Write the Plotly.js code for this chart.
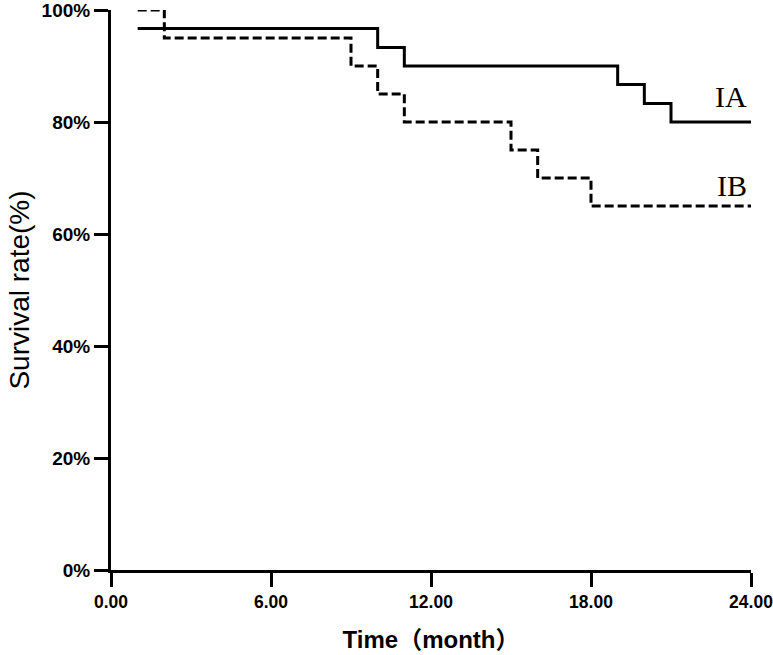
<!DOCTYPE html>
<html>
<head>
<meta charset="utf-8">
<script src="https://cdn.plot.ly/plotly-3.0.1.min.js"></script>
<style>html,body{margin:0;padding:0;background:#fff;}#chart{width:773px;height:655px;}</style>
</head>
<body>
<div id="chart"></div>
<script>
// Kaplan-Meier step data (time in months, survival in %)
const groupNames = ["IA", "IB"];
const timeIA = [1, 10, 11, 19, 20, 21, 24];
const survIA = [96.7, 93.3, 90.0, 86.7, 83.3, 80.0, 80.0];
const timeIB = [1, 2, 9, 10, 11, 15, 16, 18, 24];
const survIB = [100, 95, 90, 85, 80, 75, 70, 65, 65];
const xTicks = [0, 6, 12, 18, 24];
const xTickLabels = ["0.00", "6.00", "12.00", "18.00", "24.00"];
const yTicks = [0, 20, 40, 60, 80, 100];
const yTickLabels = ["0%", "20%", "40%", "60%", "80%", "100%"];

const traces = [
  {x: timeIA, y: survIA, name: groupNames[0], mode: "lines",
   line: {shape: "hv", color: "#000", width: 3}},
  {x: timeIB, y: survIB, name: groupNames[1], mode: "lines",
   line: {shape: "hv", color: "#000", width: 3, dash: "9px,4px"}}
];

const layout = {
  width: 773, height: 655,
  margin: {l: 111, r: 22, t: 10, b: 85},
  paper_bgcolor: "#fff", plot_bgcolor: "#fff",
  showlegend: false,
  xaxis: {
    range: [0, 24], tickmode: "array", tickvals: xTicks, ticktext: xTickLabels,
    ticklabeloverflow: "allow",
    showgrid: false, zeroline: false,
    showline: true, linecolor: "#000", linewidth: 3,
    ticks: "outside", ticklen: 14, tickwidth: 3, tickcolor: "#000",
    tickfont: {family: "Liberation Sans, Arial, sans-serif", size: 17.5, color: "#000", weight: "bold"},
    title: {text: "Time（month）", standoff: 21,
            font: {family: "Liberation Sans, Noto Sans CJK SC, sans-serif", size: 24, color: "#000", weight: "bold"}}
  },
  yaxis: {
    range: [0, 100], tickmode: "array", tickvals: yTicks, ticktext: yTickLabels,
    ticklabeloverflow: "allow",
    showgrid: false, zeroline: false,
    showline: true, linecolor: "#000", linewidth: 3,
    ticks: "outside", ticklen: 14, tickwidth: 3, tickcolor: "#000",
    tickfont: {family: "Liberation Sans, Arial, sans-serif", size: 19, color: "#000", weight: "bold"},
    title: {text: "Survival rate(%)", standoff: 4,
            font: {family: "Liberation Sans, Arial, sans-serif", size: 28, color: "#000"}}
  },
  annotations: [
    {x: 24, y: 84.6, xref: "x", yref: "y", text: groupNames[0], showarrow: false,
     xanchor: "right", yanchor: "middle", xshift: -2,
     font: {family: "Liberation Serif, serif", size: 30, color: "#000"}},
    {x: 24, y: 68.75, xref: "x", yref: "y", text: groupNames[1], showarrow: false,
     xanchor: "right", yanchor: "middle", xshift: -2,
     font: {family: "Liberation Serif, serif", size: 30, color: "#000"}}
  ]
};

Plotly.newPlot("chart", traces, layout, {displayModeBar: false, staticPlot: true});
</script>
</body>
</html>
